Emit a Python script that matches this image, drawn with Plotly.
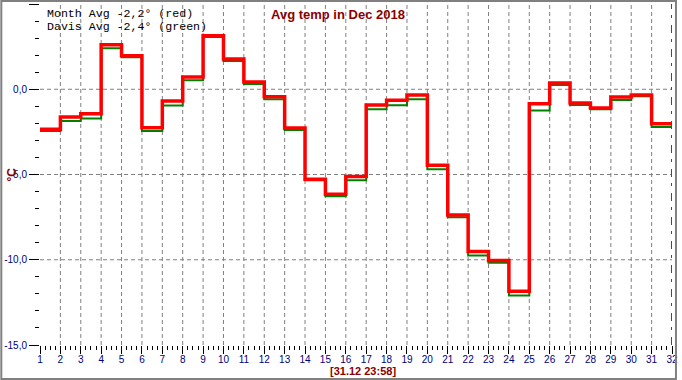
import plotly.graph_objects as go

# ---- data ----
days = list(range(1, 32))
month_avg = [-2.34, -1.63, -1.43, 2.61, 1.96, -2.26, -0.69, 0.72, 3.14, 1.78,
             0.43, -0.44, -2.28, -5.28, -6.16, -5.12, -0.92, -0.65, -0.33, -4.46,
             -7.38, -9.51, -10.04, -11.85, -0.85, 0.37, -0.81, -1.10, -0.45, -0.34,
             -2.02]
davis_avg = [-2.45, -1.86, -1.71, 2.41, 1.88, -2.45, -0.96, 0.53, 3.06, 1.66,
             0.31, -0.58, -2.39, -5.34, -6.28, -5.34, -1.18, -0.94, -0.58, -4.69,
             -7.51, -9.75, -10.18, -12.10, -1.24, 0.25, -0.92, -1.18, -0.63, -0.41,
             -2.22]
x_ticks = list(range(1, 33))
y_ticks = [-15, -10, -5, 0, 5]
y_tick_text = ["-15,0", "-10,0", "-5,0", "0,0", "5,0"]
y_grid = [-10, -5, 0]
title_text = "Avg temp in Dec 2018"
legend_lines = ["Month Avg -2,2° (red)", "Davis Avg -2,4° (green)"]
stamp_text = "[31.12 23:58]"
unit_text = "°C"

W, H = 682, 380
L, R, T, B = 40, 5, 4, 35
pw, ph = W - L - R, H - T - B

x_end = x_ticks[-1]
fig = go.Figure()
fig.add_trace(go.Scatter(x=days + [x_end], y=davis_avg + [davis_avg[-1]],
                         mode="lines", line=dict(shape="hv", color="#008000", width=2),
                         hoverinfo="skip", showlegend=False))
fig.add_trace(go.Scatter(x=days + [x_end], y=month_avg + [month_avg[-1]],
                         mode="lines", line=dict(shape="hv", color="#FF0000", width=3.5),
                         hoverinfo="skip", showlegend=False))

shapes = []
grid_style = dict(color="#808080", width=1, dash="4px,3px")
for d in x_ticks[1:-1]:
    shapes.append(dict(type="line", xref="x", yref="paper", x0=d, x1=d, y0=0, y1=1,
                       line=grid_style, layer="below"))
for v in y_grid:
    shapes.append(dict(type="line", xref="paper", yref="y", x0=0, x1=1, y0=v, y1=v,
                       line=grid_style, layer="below"))
# "now" marker at end of month
shapes.append(dict(type="line", xref="x", yref="paper", x0=x_end, x1=x_end, y0=0, y1=1,
                   line=dict(color="#008000", width=2, dash="8px,7px,3px,6px")))
# outer frame
shapes.append(dict(type="rect", xref="paper", yref="paper",
                   x0=-(L - 1) / pw, x1=1 + (R - 1) / pw,
                   y0=-(B - 1) / ph, y1=1 + (T - 1) / ph,
                   line=dict(color="#808080", width=2), fillcolor="rgba(0,0,0,0)"))

annotations = [
    dict(text=f"<b>{title_text}</b>", xref="paper", yref="paper", x=(340.5 - L) / pw, y=1,
         yshift=-10, xanchor="center", yanchor="middle", showarrow=False,
         font=dict(family="Liberation Sans", size=13, color="#8B0000")),
    dict(text=f"<b>{stamp_text}</b>", xref="paper", yref="paper", x=(366 - L) / pw, y=0,
         yshift=-26, xanchor="center", yanchor="middle", showarrow=False,
         font=dict(family="Liberation Sans", size=11, color="#8B0000")),
    dict(text=f"<b>{unit_text}</b>", xref="paper", yref="paper", x=0, y=0.5, xshift=-29,
         xanchor="center", yanchor="middle", textangle=-90, showarrow=False,
         font=dict(family="Liberation Sans", size=12, color="#8B0000")),
]
for i, line in enumerate(legend_lines):
    annotations.append(dict(text=line, xref="paper", yref="paper", x=(45 - L) / pw, y=1,
                            yshift=-(9 + 13 * i), xanchor="left", yanchor="middle",
                            showarrow=False,
                            font=dict(family="Liberation Mono", size=11.6, color="black")))

tick_font = dict(family="Liberation Sans", size=10, color="#000080")
fig.update_layout(
    width=W, height=H, margin=dict(l=L, r=R, t=T, b=B),
    paper_bgcolor="white", plot_bgcolor="white",
    shapes=shapes, annotations=annotations,
    xaxis=dict(range=[1, x_end], tickvals=x_ticks, ticktext=[str(v) for v in x_ticks],
               ticks="outside", ticklen=8, tickcolor="black", tickwidth=1,
               ticklabeloverflow="allow", ticklabelstandoff=-3,
               showgrid=False, zeroline=False, showline=False, tickfont=tick_font,
               minor=dict(ticks="outside", ticklen=4, tickcolor="black", dtick=0.25,
                          tick0=1, showgrid=False)),
    yaxis=dict(range=[-15, 5], tickvals=y_ticks, ticktext=y_tick_text,
               ticks="outside", ticklen=10, tickcolor="black", tickwidth=1,
               showgrid=False, zeroline=False, showline=False, tickfont=tick_font,
               minor=dict(ticks="outside", ticklen=4, tickcolor="black", dtick=1,
                          tick0=-15, showgrid=False)),
)

fig.write_html("out.html", config={"displayModeBar": False},
               post_script="document.body.style.margin='0';document.body.style.overflow='hidden';")
